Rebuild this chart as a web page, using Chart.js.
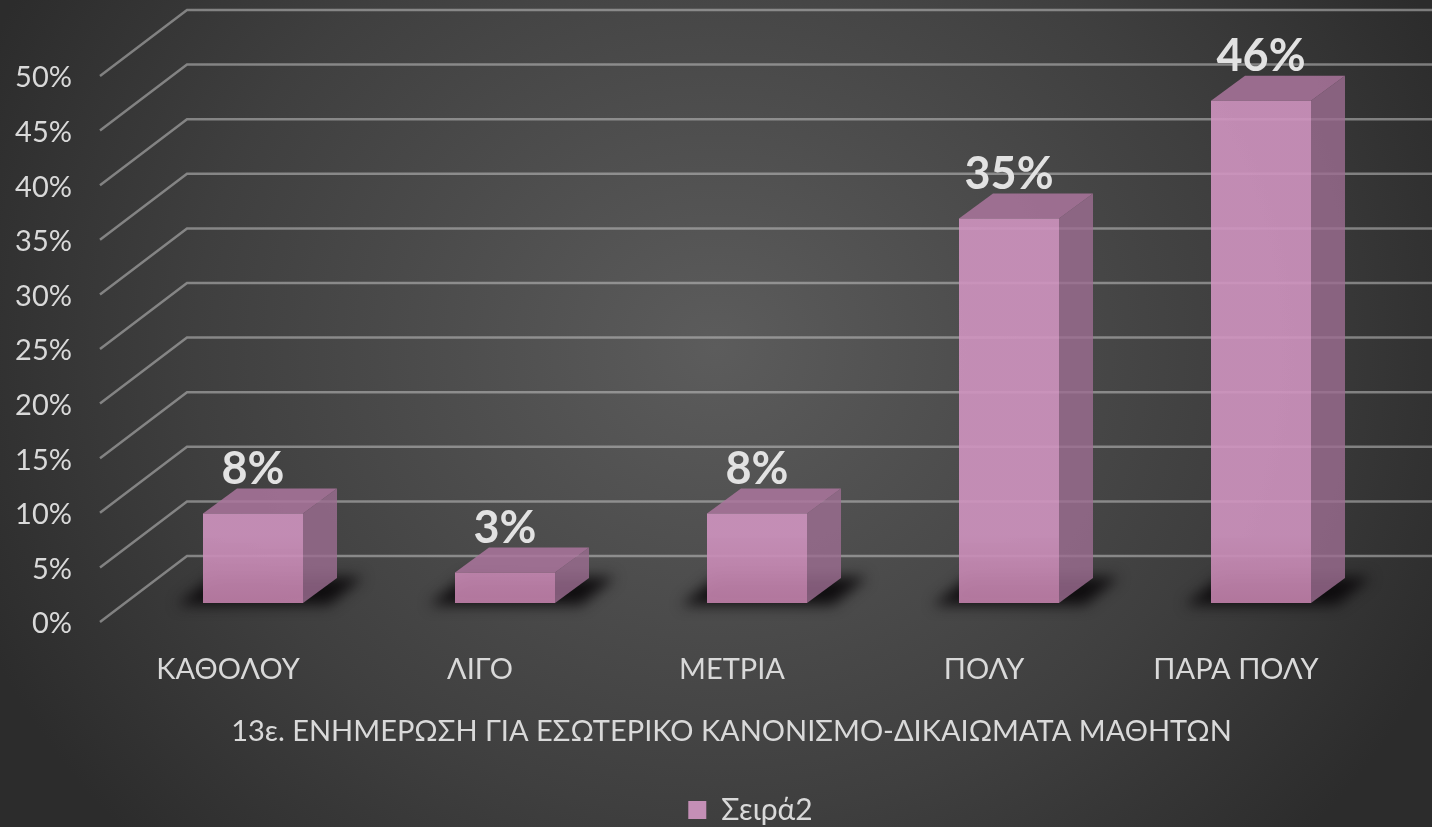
<!DOCTYPE html>
<html>
<head>
<meta charset="utf-8">
<style>
  html, body { margin: 0; height: 100%; overflow: hidden; }
  body { background: radial-gradient(ellipse 800px 720px at 50% 42%, #5c5c5c 0%, #3f3f3f 65%, #2c2c2c 100%); }
  #wrap { width: 1432px; height: 827px; }
</style>
</head>
<body>
<div id="wrap"><canvas id="myChart"></canvas></div>
<script src="https://cdn.jsdelivr.net/npm/chart.js@4"></script>
<script>
// values
const categories = ['ΚΑΘΟΛΟΥ', 'ΛΙΓΟ', 'ΜΕΤΡΙΑ', 'ΠΟΛΥ', 'ΠΑΡΑ ΠΟΛΥ'];
const seriesName = 'Σειρά2';
const seriesValues = [8.2, 2.8, 8.2, 35.2, 46];
const valueLabels = ['8%', '3%', '8%', '35%', '46%'];
const axisTitle = '13ε. ΕΝΗΜΕΡΩΣΗ ΓΙΑ ΕΣΩΤΕΡΙΚΟ ΚΑΝΟΝΙΣΜΟ-ΔΙΚΑΙΩΜΑΤΑ ΜΑΘΗΤΩΝ';
const yMax = 50;
const yStep = 5;

const fontFamily = 'Lato, "Noto Sans", sans-serif';
const textColor = '#d9d9d9';

// depth of the fake 3D box
const depthX = 34;
const depthY = -25;

// plot band of the front plane
const plotTop = 57;
const plotBottom = 603;

// title and legend sit off centre in the original
function nudge(box, dx, dy) {
  box.left += dx; box.right += dx;
  box.top += dy; box.bottom += dy;
}

const fakeDepth = {
  id: 'fakeDepth',
  afterLayout(chart) {
    // pin the vertical band, the auto layout keeps it a few px off
    const y = chart.scales.y;
    const x = chart.scales.x;
    y.top = plotTop;
    y.bottom = plotBottom;
    y.height = plotBottom - plotTop;
    y.configure();
    x.bottom += plotBottom - x.top;
    x.top = plotBottom;
    x.configure();
    chart.chartArea.top = plotTop;
    chart.chartArea.bottom = plotBottom;
    chart.chartArea.height = plotBottom - plotTop;
  },
  beforeDraw(chart) {
    nudge(chart.legend, 57, 8);
    nudge(chart.titleBlock, 38, -4);
  },
  afterDraw(chart) {
    nudge(chart.legend, -57, -8);
    nudge(chart.titleBlock, -38, 4);
  },
  beforeDatasetsDraw(chart) {
    const ctx = chart.ctx;
    const y = chart.scales.y;
    // walls: diagonal + back line per tick
    ctx.save();
    ctx.strokeStyle = 'rgba(205,205,205,0.5)';
    ctx.lineWidth = 2.5;
    for (let v = 0; v <= yMax; v += yStep) {
      const p = y.getPixelForValue(v);
      ctx.beginPath();
      ctx.moveTo(100, p + 19);
      ctx.lineTo(187, p - 47);
      ctx.lineTo(1432, p - 47);
      ctx.stroke();
    }
    ctx.restore();

    // floor shadows
    const bars = chart.getDatasetMeta(0).data;
    ctx.save();
    ctx.filter = 'blur(7px)';
    ctx.fillStyle = 'rgba(12,10,12,0.95)';
    bars.forEach(bar => {
      const l = bar.x - bar.width / 2;
      const r = bar.x + bar.width / 2;
      ctx.beginPath();
      ctx.moveTo(l - 26, bar.base + 2);
      ctx.lineTo(r + 26, bar.base + 2);
      ctx.lineTo(r + 60, bar.base - 26);
      ctx.lineTo(l + 10, bar.base - 26);
      ctx.closePath();
      ctx.fill();
    });
    ctx.restore();

    // side and top faces, drawn from the bar elements
    ctx.save();
    bars.forEach(bar => {
      const l = bar.x - bar.width / 2;
      const r = bar.x + bar.width / 2;
      ctx.fillStyle = 'rgba(158,110,146,0.8)';
      ctx.beginPath();
      ctx.moveTo(r, bar.y);
      ctx.lineTo(r + depthX, bar.y + depthY);
      ctx.lineTo(r + depthX, bar.base + depthY);
      ctx.lineTo(r, bar.base);
      ctx.closePath();
      ctx.fill();
      ctx.fillStyle = 'rgba(172,118,158,0.85)';
      ctx.beginPath();
      ctx.moveTo(l, bar.y);
      ctx.lineTo(l + depthX, bar.y + depthY);
      ctx.lineTo(r + depthX, bar.y + depthY);
      ctx.lineTo(r, bar.y);
      ctx.closePath();
      ctx.fill();
    });
    ctx.restore();
  },
  afterDatasetsDraw(chart) {
    const ctx = chart.ctx;
    ctx.save();
    ctx.font = 'bold 45px ' + fontFamily;
    ctx.fillStyle = '#e2e2e2';
    ctx.textAlign = 'center';
    ctx.textBaseline = 'middle';
    chart.getDatasetMeta(0).data.forEach((bar, i) => {
      ctx.fillText(valueLabels[i], bar.x, bar.y - 44);
    });
    ctx.restore();
  }
};

new Chart(document.getElementById('myChart'), {
  type: 'bar',
  data: {
    labels: categories,
    datasets: [{
      label: seriesName,
      data: seriesValues,
      backgroundColor(c) {
        const g = c.chart.ctx.createLinearGradient(0, 535, 0, 603);
        g.addColorStop(0, 'rgba(208,148,192,0.9)');
        g.addColorStop(1, 'rgba(186,124,164,0.95)');
        return g;
      },
      barPercentage: 1,
      categoryPercentage: 100 / 252
    }]
  },
  options: {
    responsive: true,
    maintainAspectRatio: false,
    animation: false,
    layout: { padding: { top: 52, left: 0, right: 45, bottom: 0 } },
    scales: {
      x: {
        grid: { display: false },
        border: { display: false },
        afterFit(s) { s.height = 114; },
        ticks: {
          color: textColor,
          font: { family: fontFamily, size: 29 },
          labelOffset: -25,
          padding: 41,
          maxRotation: 0
        }
      },
      y: {
        min: 0,
        max: yMax,
        afterFit(s) { s.width = 127; },
        grid: { display: false },
        border: { display: false },
        ticks: {
          stepSize: yStep,
          color: textColor,
          font: { family: fontFamily, size: 29 },
          padding: 47,
          labelOffset: 21,
          callback: v => v + '%'
        }
      }
    },
    plugins: {
      tooltip: { enabled: false },
      title: {
        display: true,
        text: axisTitle,
        position: 'bottom',
        weight: 500,
        color: textColor,
        font: { family: fontFamily, size: 29, weight: 'normal' },
        padding: { top: 0, bottom: 30 }
      },
      legend: {
        position: 'bottom',
        labels: {
          color: textColor,
          font: { family: fontFamily, size: 30 },
          usePointStyle: true,
          pointStyle: 'rect',
          boxWidth: 18,
          boxHeight: 18,
          padding: 4,
          generateLabels(chart) {
            return Chart.defaults.plugins.legend.labels.generateLabels(chart).map(item => {
              item.fillStyle = '#c48fb6';
              item.strokeStyle = '#c48fb6';
              return item;
            });
          }
        }
      }
    }
  },
  plugins: [fakeDepth]
});
</script>
</body>
</html>
